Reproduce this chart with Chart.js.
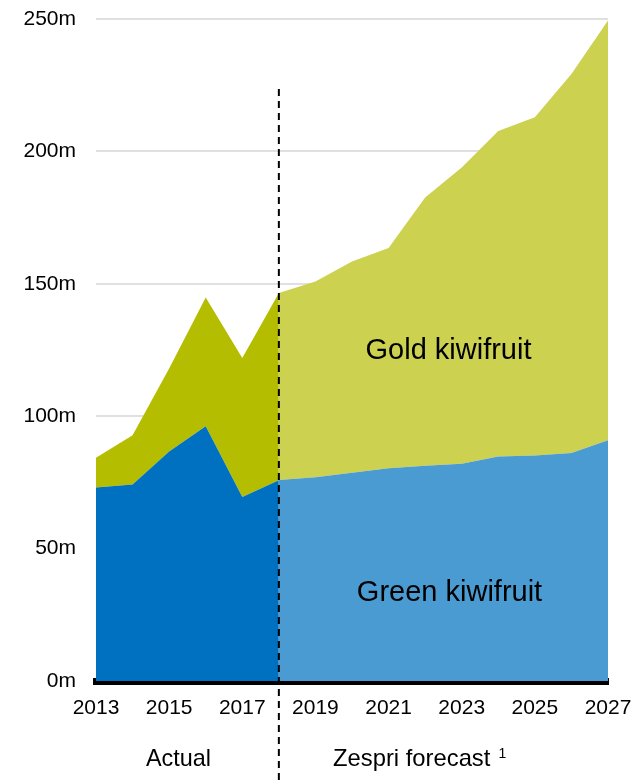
<!DOCTYPE html>
<html>
<head>
<meta charset="utf-8">
<script src="https://cdn.jsdelivr.net/npm/chart.js@4/dist/chart.umd.min.js"></script>
<style>
  html, body { margin: 0; padding: 0; background: #fff; }
  #wrap { width: 635px; height: 782px; }
</style>
</head>
<body>
<div id="wrap"><canvas id="c" width="635" height="782"></canvas></div>
<script>
// ---- data (NZ$ millions) ----
const years = ['2013','2014','2015','2016','2017','2018','2019','2020','2021','2022','2023','2024','2025','2026','2027'];
// Actual (2013-2018)
const greenActual = [73.1, 74.2, 86.7, 96.2, 69.5, 75.8];
const goldActual  = [11.2, 18.6, 31.3, 48.6, 52.5, 70.7];
// Zespri forecast (2018-2027)
const greenForecast = [75.9, 76.9, 78.6, 80.3, 81.3, 82.0, 84.8, 85.2, 86.1, 90.9];
const goldForecast  = [70.6, 74.0, 79.8, 83.2, 101.3, 111.9, 122.9, 127.7, 143.1, 158.5];
const yTicks = [0, 50, 100, 150, 200, 250];
const tickLabelYears = ['2013','2015','2017','2019','2021','2023','2025','2027'];

// build full-length series (null where not applicable), stacking gold on green
const nA = greenActual.length;            // 6 points: 2013..2018
const fStart = years.length - greenForecast.length; // index of 2018
const gA = years.map((y, i) => i < nA ? greenActual[i] : null);
const tA = years.map((y, i) => i < nA ? greenActual[i] + goldActual[i] : null);
const gF = years.map((y, i) => i >= fStart ? greenForecast[i - fStart] : null);
const tF = years.map((y, i) => i >= fStart ? greenForecast[i - fStart] + goldForecast[i - fStart] : null);

const FONT = '"Liberation Sans", Arial, Helvetica, sans-serif';

const annotations = {
  id: 'annotations',
  afterDraw(chart) {
    const ctx = chart.ctx;
    const x = chart.scales.x;
    const xd = x.getPixelForValue(fStart);
    ctx.save();
    // dashed divider
    ctx.strokeStyle = '#000';
    ctx.lineWidth = 2;
    ctx.setLineDash([7, 5]);
    ctx.beginPath();
    ctx.moveTo(xd, 89);
    ctx.lineTo(xd, 782);
    ctx.stroke();
    ctx.setLineDash([]);
    ctx.fillStyle = '#000';
    ctx.textBaseline = 'alphabetic';
    ctx.textAlign = 'center';
    ctx.font = '29px ' + FONT;
    ctx.fillText('Gold kiwifruit', 448.5, 359);
    ctx.fillText('Green kiwifruit', 449.5, 600.5);
    ctx.font = '23.4px ' + FONT;
    ctx.fillText('Actual', 178.5, 766);
    ctx.textAlign = 'left';
    ctx.font = '23.8px ' + FONT;
    const zt = 'Zespri forecast';
    ctx.fillText(zt, 333, 766);
    const w = ctx.measureText(zt).width;
    ctx.font = '14px ' + FONT;
    ctx.fillText('1', 333 + w + 8, 758);
    ctx.restore();
  }
};

new Chart(document.getElementById('c'), {
  type: 'line',
  data: {
    labels: years,
    datasets: [
      { label: 'Green actual', data: gA, backgroundColor: '#0070C0', fill: 'origin', borderWidth: 0, pointRadius: 0, tension: 0 },
      { label: 'Green forecast', data: gF, backgroundColor: '#4B9BD3', fill: 'origin', borderWidth: 0, pointRadius: 0, tension: 0 },
      { label: 'Gold actual', data: tA, backgroundColor: '#B5BD00', fill: 0, borderWidth: 0, pointRadius: 0, tension: 0 },
      { label: 'Gold forecast', data: tF, backgroundColor: '#CCD14F', fill: 1, borderWidth: 0, pointRadius: 0, tension: 0 }
    ]
  },
  options: {
    responsive: false,
    animation: false,
    devicePixelRatio: 1,
    layout: { padding: { left: 0, right: 27, top: 19, bottom: 0 } },
    plugins: { legend: { display: false }, tooltip: { enabled: false } },
    elements: { line: { borderWidth: 0 } },
    scales: {
      x: {
        offset: false,
        grid: { display: false, drawTicks: false },
        border: { display: true, color: '#000', width: 7 },
        afterFit(axis) { axis.height = 101; axis.paddingLeft = 0; axis.paddingRight = 0; },
        ticks: {
          autoSkip: false,
          maxRotation: 0,
          padding: 15,
          color: '#000',
          font: { family: FONT, size: 21 },
          callback(v, i) { return tickLabelYears.includes(years[i]) ? years[i] : ''; }
        }
      },
      y: {
        min: 0, max: 250,
        afterBuildTicks(axis) { axis.ticks = yTicks.map(v => ({ value: v })); },
        afterFit(axis) { axis.width = 96; axis.paddingTop = 0; axis.paddingBottom = 0; },
        grid: { color: '#e0e0e0', lineWidth: 2, drawTicks: false },
        border: { display: false },
        ticks: {
          padding: 20,
          color: '#000',
          font: { family: FONT, size: 21 },
          callback(v) { return v + 'm'; }
        }
      }
    }
  },
  plugins: [annotations]
});
</script>
</body>
</html>
